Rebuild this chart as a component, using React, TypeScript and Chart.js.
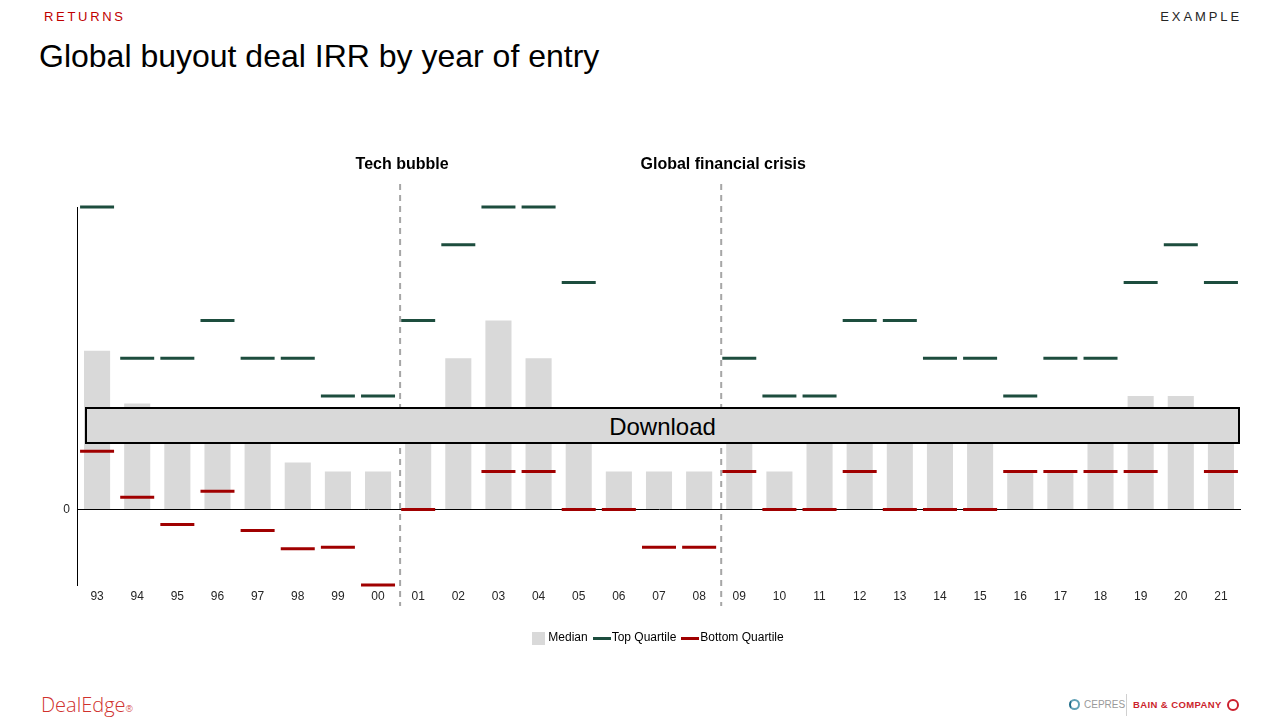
import React, { useEffect, useRef } from "react";
import { Chart, registerables } from "chart.js";

Chart.register(...registerables);

const years = ["93","94","95","96","97","98","99","00","01","02","03","04","05","06","07","08","09","10","11","12","13","14","15","16","17","18","19","20","21"];
const median = [21,14,10,10,10,6.2,5,5,10,20,25,20,10,5,5,5,10,5,10,10,10,10,10,5,5,10,15,15,10];
const topQuartile = [40,20,20,25,20,20,15,15,25,35,40,40,30,10,10,10,20,15,15,25,25,20,20,15,20,20,30,35,30];
const bottomQuartile = [7.7,1.6,-2,2.4,-2.8,-5.2,-5,-10,0,10,5,5,0,0,-5,-5,5,0,0,5,0,0,0,5,5,5,5,10,5];
const events = [
  { label: "Tech bubble", afterIndex: 7 },
  { label: "Global financial crisis", afterIndex: 15 },
];

const GRAY = "#d9d9d9";
const GREEN = "#1d4d3e";
const RED = "#a00000";
const FONT = "'Liberation Sans', Arial, sans-serif";
const CANVAS_TOP = 140;

function makeSwatch(w: number, h: number, color: string) {
  const c = document.createElement("canvas");
  c.width = w;
  c.height = h;
  const ctx = c.getContext("2d")!;
  ctx.fillStyle = color;
  ctx.fillRect(0, 0, w, h);
  return c;
}

export default function App() {
  const ref = useRef<HTMLCanvasElement>(null);

  useEffect(() => {
    if (!ref.current) return;
    const eventPlugin = {
      id: "events",
      afterDatasetsDraw(chart: any) {
        const { ctx, chartArea } = chart;
        const xs = chart.scales.x;
        ctx.save();
        events.forEach((ev) => {
          const x = (xs.getPixelForValue(ev.afterIndex) + xs.getPixelForValue(ev.afterIndex + 1)) / 2 + 2;
          ctx.strokeStyle = "#a6a6a6";
          ctx.lineWidth = 2;
          ctx.setLineDash([6, 5]);
          ctx.beginPath();
          ctx.moveTo(x, chartArea.top - 23);
          ctx.lineTo(x, chartArea.bottom + 21);
          ctx.stroke();
          ctx.setLineDash([]);
          ctx.fillStyle = "#000";
          ctx.font = `bold 16px ${FONT}`;
          ctx.textAlign = "center";
          ctx.textBaseline = "middle";
          ctx.fillText(ev.label, x + 2, 165 - CANVAS_TOP);
        });
        ctx.restore();
      },
    };

    const medianSw = makeSwatch(13, 13, GRAY);
    const topSw = makeSwatch(18, 3, GREEN);
    const botSw = makeSwatch(18, 3, RED);

    const chart = new Chart(ref.current, {
      type: "bar",
      data: {
        labels: years,
        datasets: [
          {
            type: "bar",
            label: "Median",
            data: median,
            backgroundColor: GRAY,
            barPercentage: 0.65,
            categoryPercentage: 1,
            order: 2,
          } as any,
          {
            type: "line",
            label: "Top Quartile",
            data: topQuartile,
            showLine: false,
            pointStyle: "line",
            pointRadius: 17,
            pointHoverRadius: 17,
            borderColor: GREEN,
            backgroundColor: GREEN,
            pointBorderWidth: 3,
            borderWidth: 3,
            clip: false,
            order: 1,
          } as any,
          {
            type: "line",
            label: "Bottom Quartile",
            data: bottomQuartile,
            showLine: false,
            pointStyle: "line",
            pointRadius: 17,
            pointHoverRadius: 17,
            borderColor: RED,
            backgroundColor: RED,
            pointBorderWidth: 3,
            borderWidth: 3,
            clip: false,
            order: 0,
          } as any,
        ],
      },
      options: {
        animation: false,
        responsive: false,
        maintainAspectRatio: false,
        layout: { padding: { top: 67, right: 39, bottom: 6, left: 0 } },
        plugins: {
          tooltip: { enabled: false },
          legend: {
            position: "bottom",
            fullSize: false,
            labels: {
              usePointStyle: true,
              boxWidth: 8,
              boxHeight: 8,
              padding: 10,
              color: "#262626",
              font: { family: FONT, size: 12 },
              generateLabels: () => [
                { text: "Median", pointStyle: medianSw, datasetIndex: 0, hidden: false, fillStyle: GRAY, strokeStyle: GRAY, lineWidth: 0 },
                { text: "Top Quartile", pointStyle: topSw, datasetIndex: 1, hidden: false, fillStyle: GREEN, strokeStyle: GREEN, lineWidth: 0 },
                { text: "Bottom Quartile", pointStyle: botSw, datasetIndex: 2, hidden: false, fillStyle: RED, strokeStyle: RED, lineWidth: 0 },
              ] as any,
            },
          },
        },
        scales: {
          x: {
            grid: { display: false, drawTicks: false },
            border: { display: false },
            ticks: {
              color: "#262626",
              font: { family: FONT, size: 12 },
              padding: 4,
              maxRotation: 0,
              autoSkip: false,
            },
            afterFit: (s: any) => { s.height = 37; },
          },
          y: {
            min: -10,
            max: 40,
            afterBuildTicks: (axis: any) => { axis.ticks = [{ value: 0 }]; },
            grid: { display: true, drawTicks: false, color: "#000", lineWidth: 1 },
            border: { display: true, color: "#000", width: 1 },
            ticks: {
              color: "#262626",
              font: { family: FONT, size: 12 },
              padding: 7,
            },
            afterFit: (s: any) => { s.width = 77; },
          },
        },
      },
      plugins: [eventPlugin],
    } as any);
    return () => chart.destroy();
  }, []);

  return (
    <div style={{ position: "fixed", left: 0, top: 0, width: 1280, height: 720, background: "#fff", fontFamily: FONT, overflow: "hidden" }}>
      <div style={{ position: "absolute", left: 44, top: 9, fontSize: 13, letterSpacing: 2.7, color: "#c00000" }}>RETURNS</div>
      <div style={{ position: "absolute", right: 38, top: 9, fontSize: 13, letterSpacing: 2.9, color: "#262626" }}>EXAMPLE</div>
      <div style={{ position: "absolute", left: 39, top: 38, fontSize: 32, color: "#000" }}>Global buyout deal IRR by year of entry</div>
      <canvas ref={ref} width={1280} height={520} style={{ position: "absolute", left: 0, top: CANVAS_TOP, width: 1280, height: 520 }} />
      <div style={{ position: "absolute", left: 85, top: 407, width: 1151, height: 33, border: "2px solid #000", background: GRAY, fontSize: 24, lineHeight: "36px", textAlign: "center", color: "#000" }}>Download</div>
      <div style={{ position: "absolute", left: 41, top: 691, fontSize: 20, color: "#d0312d", fontFamily: "'Open Sans', " + FONT, fontWeight: 300 }}>DealEdge<span style={{ fontSize: 9 }}>®</span></div>
      <div style={{ position: "absolute", left: 1069, top: 699, width: 11, height: 11, borderRadius: "50%", border: "2px solid #5fa0b5", boxSizing: "border-box", borderLeftColor: "#1f6d8a" }} />
      <div style={{ position: "absolute", left: 1084, top: 699, fontSize: 10, color: "#9a9a9a", letterSpacing: 0 }}>CEPRES</div>
      <div style={{ position: "absolute", left: 1126, top: 694, width: 1, height: 22, background: "#d0d0d0" }} />
      <div style={{ position: "absolute", left: 1133, top: 699, fontSize: 9.5, fontWeight: "bold", color: "#cc1f2d", letterSpacing: 0.4 }}>BAIN &amp; COMPANY</div>
      <div style={{ position: "absolute", left: 1227, top: 699, width: 12, height: 12, borderRadius: "50%", border: "2px solid #cc1f2d", boxSizing: "border-box" }} />
    </div>
  );
}
